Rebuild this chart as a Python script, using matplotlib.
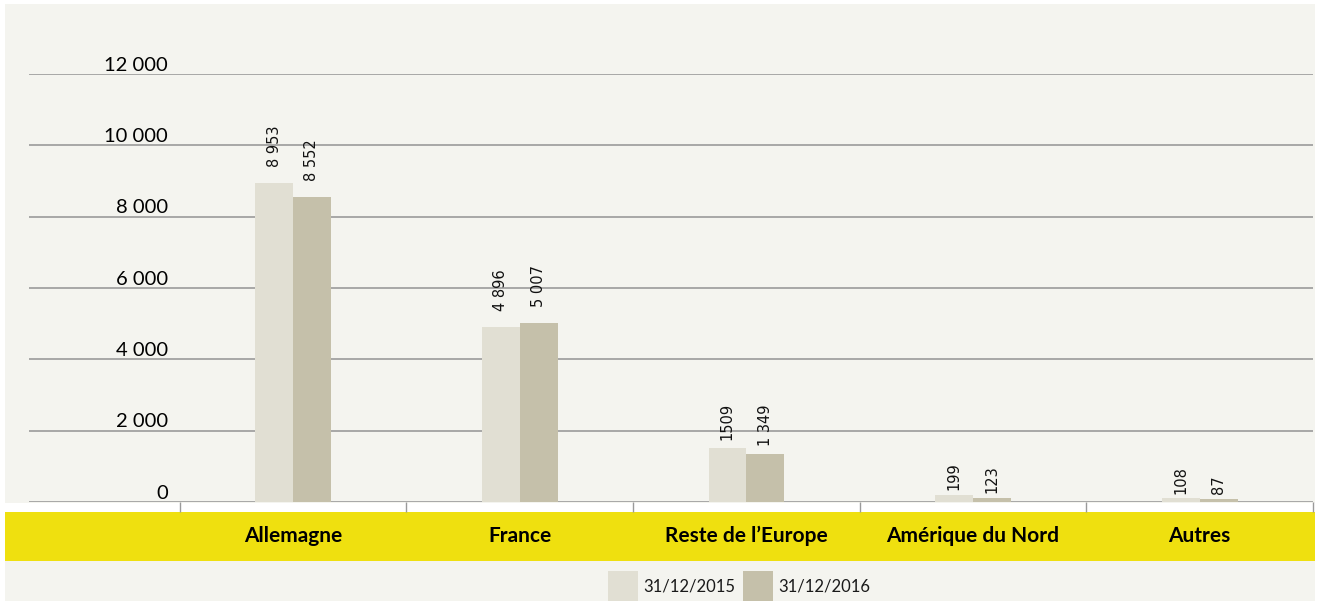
import matplotlib
matplotlib.use("Agg")
import matplotlib.pyplot as plt
from matplotlib.patches import Rectangle
from matplotlib.transforms import blended_transform_factory
import numpy as np

categories = ["Allemagne", "France", "Reste de l\u2019Europe", "Am\u00e9rique du Nord", "Autres"]
series_names = ["31/12/2015", "31/12/2016"]
values_2015 = [8953, 4896, 1509, 199, 108]
values_2016 = [8552, 5007, 1349, 123, 87]
labels_2015 = ["8 953", "4 896", "1509", "199", "108"]
labels_2016 = ["8 552", "5 007", "1 349", "123", "87"]
yticks = [0, 2000, 4000, 6000, 8000, 10000, 12000]
ytick_labels = ["0", "2 000", "4 000", "6 000", "8 000", "10 000", "12 000"]

W, H = 1320, 605
BG = "#F4F4EF"
YELLOW = "#EFE00F"
C15 = "#E1DFD3"
C16 = "#C5C0AA"
GRID = "#9A9A9A"
FONT = "Lato"

fig = plt.figure(figsize=(W / 100, H / 100), dpi=100, facecolor="white")

def px_rect(x0, y0, x1, y1, color, z=-10):
    fig.patches.append(Rectangle((x0 / W, 1 - y1 / H), (x1 - x0) / W, (y1 - y0) / H,
                                 transform=fig.transFigure, facecolor=color,
                                 edgecolor="none", zorder=z))

px_rect(5, 4, 1315, 503, BG)
px_rect(5, 512, 1315, 561, YELLOW)
px_rect(5, 561, 1315, 601, BG)

ax_l, ax_r, ax_t, ax_b = 29, 1313, 74, 502
ax = fig.add_axes([ax_l / W, 1 - ax_b / H, (ax_r - ax_l) / W, (ax_b - ax_t) / H])
ax.set_facecolor("none")
ax.set_ylim(0, 12000)
ax.set_xlim(-1.165, 4.49)

for s in ax.spines.values():
    s.set_visible(False)

for y in yticks:
    ax.axhline(y, color=GRID, lw=1.2, zorder=1)
ax.set_yticks([])

x = np.arange(len(categories))
bw = 0.167
ax.bar(x - bw, values_2015, width=bw, align="edge", color=C15, zorder=2, label=series_names[0])
ax.bar(x, values_2016, width=bw, align="edge", color=C16, zorder=2, label=series_names[1])

def gap(v):
    return 3 + 8.5 * min(v / 4000.0, 1.0)

for xs, vals, labs in [(x - bw / 2, values_2015, labels_2015), (x + bw / 2, values_2016, labels_2016)]:
    for xi, v, lab in zip(xs, vals, labs):
        ax.annotate(lab, (xi, v), xytext=(0, gap(v)), textcoords="offset points", rotation=90,
                    ha="center", va="bottom", fontsize=10.5, family="DejaVu Sans", color="#111111")

# y tick labels inside axes above gridlines
tr = blended_transform_factory(ax.transAxes, ax.transData)
for y, lab in zip(yticks, ytick_labels):
    ax.annotate(lab, (0.1083, y), xycoords=tr, xytext=(0, 2.5), textcoords="offset points",
                ha="right", va="baseline", fontsize=14.5, family=FONT, color="#000000")

# category boundary ticks
ax.set_xticks(np.arange(len(categories) + 1) - 0.5)
ax.set_xticklabels([])
ax.tick_params(axis="x", length=7.5, width=1, color="#9A9A9A", direction="out")

# category labels in yellow band
trc = blended_transform_factory(ax.transData, fig.transFigure)
for xi, c in zip(x, categories):
    ax.text(xi, 1 - 536 / H, c, transform=trc, ha="center", va="center",
            fontsize=15, fontweight="bold", family=FONT, color="#000000", clip_on=False)

# legend
for (px0, tx, col, name) in [(608, 643, C15, series_names[0]), (743, 778, C16, series_names[1])]:
    px_rect(px0, 571, px0 + 30, 601, col, z=-5)
    fig.text(tx / W, 1 - 587 / H, name, ha="left", va="center", fontsize=12,
             family=FONT, color="#1a1a1a")

fig.savefig("out.png", dpi=100, facecolor="white")
